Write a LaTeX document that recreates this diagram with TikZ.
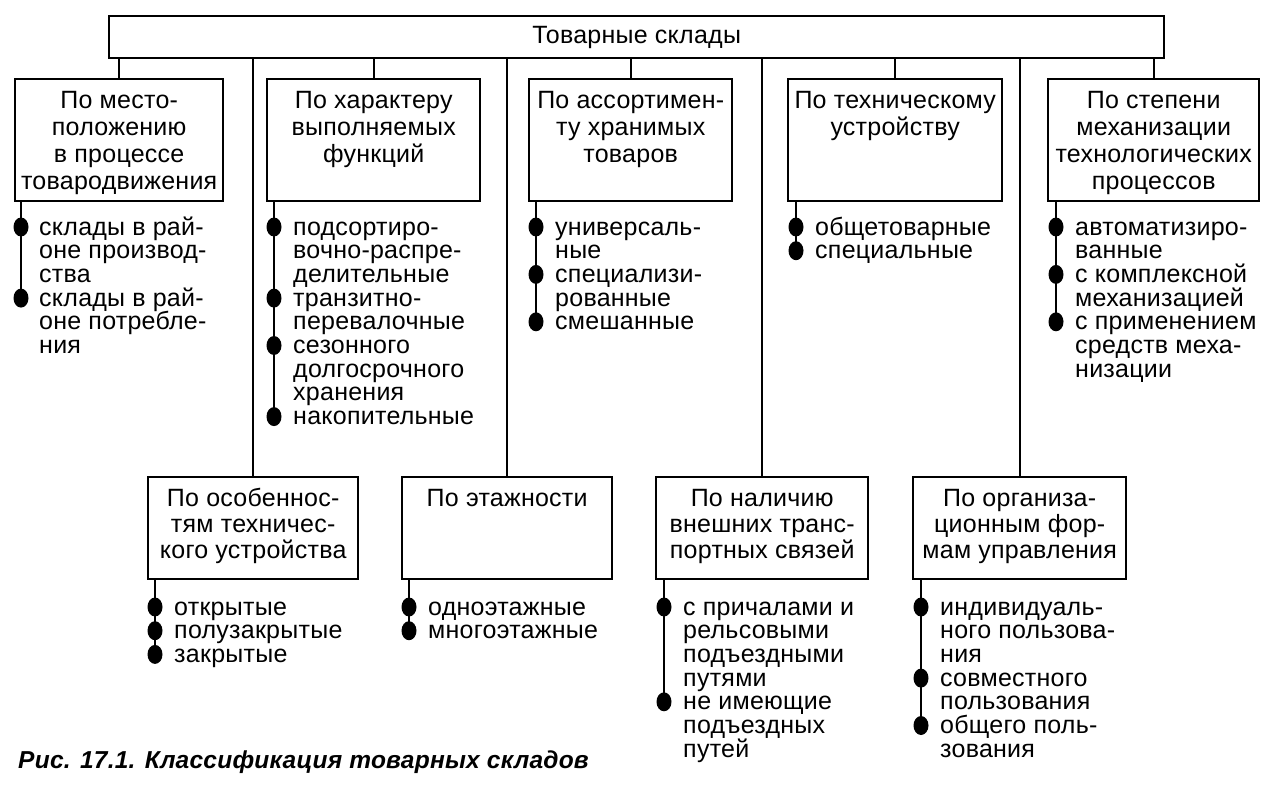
\documentclass[tikz,border=0pt]{standalone}
\usepackage{fontspec}
\setmainfont{Liberation Sans}[LetterSpace=1]
\usetikzlibrary{shapes.geometric}
\newcommand{\bxt}[5]{\parbox[c][#2][t]{#1}{\centering\fontsize{25}{#4}\selectfont\rule{0pt}{#3}#5}}
\newcommand{\itm}[1]{\parbox[t]{260pt}{\raggedright\fontsize{25}{23.7}\selectfont #1}}
\tikzset{
  catbox/.style={draw, line width=2.4pt, inner sep=0pt, anchor=north west},
  itemtext/.style={inner sep=0pt, anchor=base west},
  dot/.style={ellipse, fill=black, inner sep=0pt, minimum width=15pt, minimum height=19pt},
  conn/.style={line width=2pt},
  bline/.style={line width=2.6pt}
}
\begin{document}
\begin{tikzpicture}[x=1pt, y=-1pt]
\useasboundingbox[fill=white] (0,0) rectangle (1267,792);
% top
\node[catbox, minimum width=1055pt, minimum height=42pt, font=\fontsize{25}{27}\selectfont] (top) at (108,15) {Товарные склады};
% level 1
\node[catbox] (A) at (14,78) {\bxt{208pt}{122pt}{29pt}{27}{По место-\\положению\\в процессе\\товародвижения}};
\node[catbox] (B) at (266,78) {\bxt{213pt}{122pt}{29pt}{27}{По характеру\\выполняемых\\функций}};
\node[catbox] (C) at (528,78) {\bxt{203pt}{122pt}{29pt}{27}{По ассортимен-\\ту хранимых\\товаров}};
\node[catbox] (D) at (787,78) {\bxt{214pt}{122pt}{29pt}{27}{По техническому\\устройству}};
\node[catbox] (E) at (1047,78) {\bxt{211pt}{122pt}{29pt}{27}{По степени\\механизации\\технологических\\процессов}};
% level 2
\node[catbox] (F) at (147,476) {\bxt{210pt}{102pt}{29pt}{26}{По особеннос-\\тям техничес-\\кого устройства}};
\node[catbox] (G) at (401,476) {\bxt{210pt}{102pt}{29pt}{26}{По этажности}};
\node[catbox] (H) at (655,476) {\bxt{212pt}{102pt}{29pt}{26}{По наличию\\внешних транс-\\портных связей}};
\node[catbox] (I) at (912,476) {\bxt{213pt}{102pt}{29pt}{26}{По организа-\\ционным фор-\\мам управления}};
% connectors from top
\foreach \n in {A,B,C,D,E,F,G,H,I}
  \draw[conn] (top.south -| \n.north) -- (\n.north);
% lists A
\node[dot] (a1) at (21,227) {};
\node[dot] (a2) at (21,298.1) {};
\draw[bline] (A.south -| a2) -- (a2.center);
\node[itemtext] (ta1) at (39,235) {\itm{склады в рай-\\оне производ-\\ства}};
\node[itemtext] (ta2) at (39,306.1) {\itm{склады в рай-\\оне потребле-\\ния}};
% B
\node[dot] (b1) at (274,227) {};
\node[dot] (b2) at (274,298.1) {};
\node[dot] (b3) at (274,345.5) {};
\node[dot] (b4) at (274,416.6) {};
\draw[bline] (B.south -| b4) -- (b4.center);
\node[itemtext] (tb1) at (293,235) {\itm{подсортиро-\\вочно-распре-\\делительные}};
\node[itemtext] (tb2) at (293,306.1) {\itm{транзитно-\\перевалочные}};
\node[itemtext] (tb3) at (293,353.5) {\itm{сезонного\\долгосрочного\\хранения}};
\node[itemtext] (tb4) at (293,424.6) {\itm{накопительные}};
% C
\node[dot] (c1) at (536,227) {};
\node[dot] (c2) at (536,274.4) {};
\node[dot] (c3) at (536,321.8) {};
\draw[bline] (C.south -| c3) -- (c3.center);
\node[itemtext] (tc1) at (555,235) {\itm{универсаль-\\ные}};
\node[itemtext] (tc2) at (555,282.4) {\itm{специализи-\\рованные}};
\node[itemtext] (tc3) at (555,329.8) {\itm{смешанные}};
% D
\node[dot] (d1) at (796,227) {};
\node[dot] (d2) at (796,250.7) {};
\draw[bline] (D.south -| d2) -- (d2.center);
\node[itemtext] (td1) at (815,235) {\itm{общетоварные}};
\node[itemtext] (td2) at (815,258.7) {\itm{специальные}};
% E
\node[dot] (e1) at (1056,227) {};
\node[dot] (e2) at (1056,274.4) {};
\node[dot] (e3) at (1056,321.8) {};
\draw[bline] (E.south -| e3) -- (e3.center);
\node[itemtext] (te1) at (1075,235) {\itm{автоматизиро-\\ванные}};
\node[itemtext] (te2) at (1075,282.4) {\itm{с комплексной\\механизацией}};
\node[itemtext] (te3) at (1075,329.8) {\itm{с применением\\средств меха-\\низации}};
% F
\node[dot] (f1) at (155,607) {};
\node[dot] (f2) at (155,630.7) {};
\node[dot] (f3) at (155,654.4) {};
\draw[bline] (F.south -| f3) -- (f3.center);
\node[itemtext] (tf1) at (174,615) {\itm{открытые}};
\node[itemtext] (tf2) at (174,638.7) {\itm{полузакрытые}};
\node[itemtext] (tf3) at (174,662.4) {\itm{закрытые}};
% G
\node[dot] (g1) at (409,607) {};
\node[dot] (g2) at (409,630.7) {};
\draw[bline] (G.south -| g2) -- (g2.center);
\node[itemtext] (tg1) at (428,615) {\itm{одноэтажные}};
\node[itemtext] (tg2) at (428,638.7) {\itm{многоэтажные}};
% H
\node[dot] (h1) at (664,607) {};
\node[dot] (h2) at (664,701.8) {};
\draw[bline] (H.south -| h2) -- (h2.center);
\node[itemtext] (th1) at (683,615) {\itm{с причалами и\\рельсовыми\\подъездными\\путями}};
\node[itemtext] (th2) at (683,709.8) {\itm{не имеющие\\подъездных\\путей}};
% I
\node[dot] (i1) at (921,607) {};
\node[dot] (i2) at (921,678.1) {};
\node[dot] (i3) at (921,725.5) {};
\draw[bline] (I.south -| i3) -- (i3.center);
\node[itemtext] (ti1) at (940,615) {\itm{индивидуаль-\\ного пользова-\\ния}};
\node[itemtext] (ti2) at (940,686.1) {\itm{совместного\\пользования}};
\node[itemtext] (ti3) at (940,733.5) {\itm{общего поль-\\зования}};
% caption
\node[inner sep=0pt, anchor=base west, font=\fontsize{24.5}{27}\selectfont\bfseries\itshape] (cap) at (18,768) {Рис. 17.1. Классификация товарных складов};
\end{tikzpicture}
\end{document}
